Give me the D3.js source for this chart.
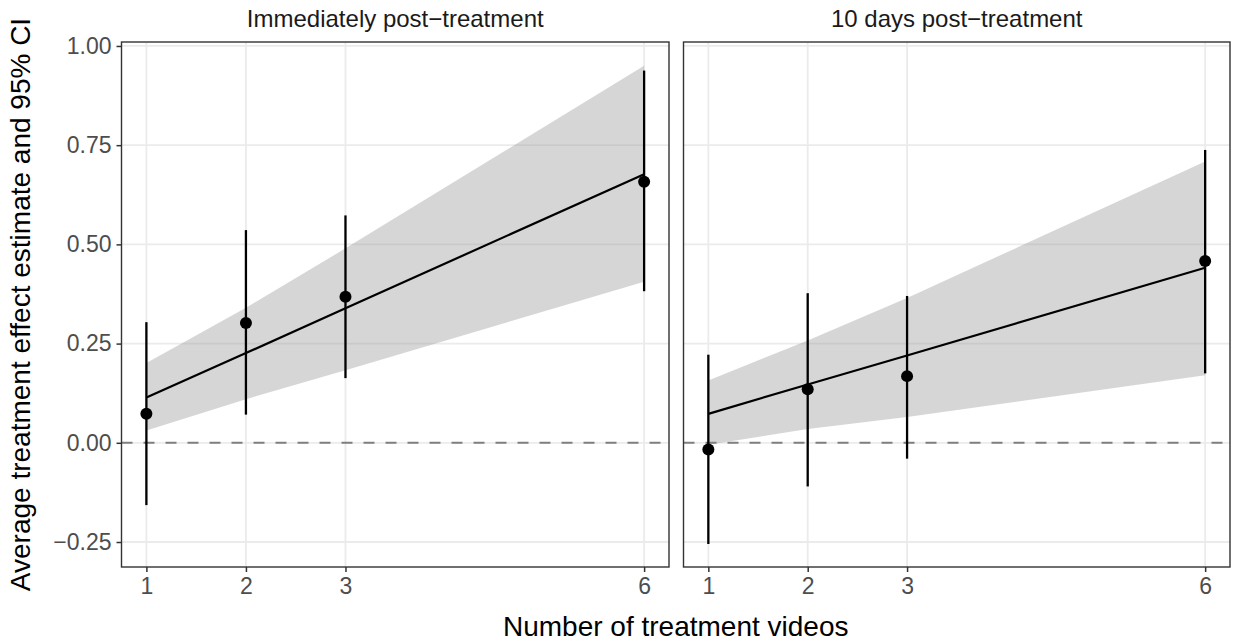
<!DOCTYPE html>
<html>
<head>
<meta charset="utf-8">
<script src="https://cdn.jsdelivr.net/npm/d3@7"></script>
<style>
  body { margin: 0; background: #fff; }
  svg text { font-family: "Liberation Sans", Arial, sans-serif; }
</style>
</head>
<body>
<div id="chart"></div>
<script>
// ---- data ----
var videos = [1, 2, 3, 6];
var panelTitles = ["Immediately post\u2212treatment", "10 days post\u2212treatment"];
var yTicks = [-0.25, 0, 0.25, 0.5, 0.75, 1];

// immediately post-treatment
var estNow = [0.073, 0.302, 0.368, 0.658];
var lowNow = [-0.157, 0.071, 0.163, 0.382];
var highNow = [0.304, 0.536, 0.573, 0.938];
var fitNow = [0.114, 0.226, 0.339, 0.677];
var bandLowNow = [0.031, 0.110, 0.183, 0.406];
var bandHighNow = [0.201, 0.340, 0.490, 0.950];

// 10 days post-treatment
var estLater = [-0.017, 0.135, 0.168, 0.458];
var lowLater = [-0.255, -0.110, -0.040, 0.175];
var highLater = [0.222, 0.377, 0.370, 0.738];
var fitLater = [0.073, 0.147, 0.220, 0.441];
var bandLowLater = [-0.005, 0.035, 0.065, 0.170];
var bandHighLater = [0.157, 0.258, 0.365, 0.709];

var width = 1235, height = 644;
var plotTop = 42, plotBottom = 567;
var panelX = [[121.5, 669], [683.5, 1230]];

var panels = [
  { title: panelTitles[0], est: estNow, lo: lowNow, hi: highNow, fit: fitNow, bLo: bandLowNow, bHi: bandHighNow },
  { title: panelTitles[1], est: estLater, lo: lowLater, hi: highLater, fit: fitLater, bLo: bandLowLater, bHi: bandHighLater }
];

var svg = d3.select("#chart").append("svg")
  .attr("width", width)
  .attr("height", height);

var y = d3.scaleLinear().domain([-0.313, 1.010]).range([plotBottom, plotTop]);

panels.forEach(function(p, i) {
  var x = d3.scaleLinear().domain([0.75, 6.25]).range(panelX[i]);
  var g = svg.append("g");

  // grid
  g.selectAll(".hgrid").data(yTicks).enter().append("line")
    .attr("x1", panelX[i][0]).attr("x2", panelX[i][1])
    .attr("y1", function(d) { return y(d); }).attr("y2", function(d) { return y(d); })
    .attr("stroke", "#EBEBEB").attr("stroke-width", 1.8);
  g.selectAll(".vgrid").data(videos).enter().append("line")
    .attr("y1", plotTop).attr("y2", plotBottom)
    .attr("x1", function(d) { return x(d); }).attr("x2", function(d) { return x(d); })
    .attr("stroke", "#EBEBEB").attr("stroke-width", 1.8);

  // smooth ribbon
  var area = d3.area()
    .x(function(d) { return x(d); })
    .y0(function(d, j) { return y(p.bLo[j]); })
    .y1(function(d, j) { return y(p.bHi[j]); });
  g.append("path").datum(videos)
    .attr("d", area)
    .attr("fill", "#999999").attr("fill-opacity", 0.4);

  // zero line
  g.append("line")
    .attr("x1", panelX[i][0]).attr("x2", panelX[i][1])
    .attr("y1", y(0)).attr("y2", y(0))
    .attr("stroke", "#7F7F7F").attr("stroke-width", 2)
    .attr("stroke-dasharray", "11,11");

  // error bars + points
  g.selectAll(".bar").data(videos).enter().append("line")
    .attr("x1", function(d) { return x(d); }).attr("x2", function(d) { return x(d); })
    .attr("y1", function(d, j) { return y(p.lo[j]); })
    .attr("y2", function(d, j) { return y(p.hi[j]); })
    .attr("stroke", "#000").attr("stroke-width", 2.3);
  g.selectAll(".dot").data(videos).enter().append("circle")
    .attr("cx", function(d) { return x(d); })
    .attr("cy", function(d, j) { return y(p.est[j]); })
    .attr("r", 6).attr("fill", "#000");

  // fit line
  var line = d3.line()
    .x(function(d) { return x(d); })
    .y(function(d, j) { return y(p.fit[j]); });
  g.append("path").datum(videos)
    .attr("d", line)
    .attr("fill", "none").attr("stroke", "#000").attr("stroke-width", 2.2);

  // border
  g.append("rect")
    .attr("x", panelX[i][0]).attr("y", plotTop)
    .attr("width", panelX[i][1] - panelX[i][0]).attr("height", plotBottom - plotTop)
    .attr("fill", "none").attr("stroke", "#333333").attr("stroke-width", 1.4);

  // x axis
  var xAxis = d3.axisBottom(x).tickValues(videos).tickSize(5).tickPadding(6).tickFormat(d3.format("d"));
  var ax = g.append("g").attr("transform", "translate(0," + plotBottom + ")").call(xAxis);
  ax.select(".domain").remove();
  ax.selectAll(".tick line").attr("stroke", "#333333").attr("stroke-width", 1.5);
  ax.selectAll(".tick text").attr("fill", "#4D4D4D").style("font-size", "23px");

  // strip title
  g.append("text")
    .attr("x", (panelX[i][0] + panelX[i][1]) / 2).attr("y", 27)
    .attr("text-anchor", "middle")
    .attr("fill", "#1A1A1A").style("font-size", "24px")
    .text(p.title);
});

// y axis (left panel only)
var yAxis = d3.axisLeft(y).tickValues(yTicks).tickSize(5).tickPadding(5)
  .tickFormat(function(d) { return d3.format(".2f")(d).replace("-", "\u2212"); });
var ay = svg.append("g").attr("transform", "translate(" + panelX[0][0] + ",0)").call(yAxis);
ay.select(".domain").remove();
ay.selectAll(".tick line").attr("stroke", "#333333").attr("stroke-width", 1.5);
ay.selectAll(".tick text").attr("fill", "#4D4D4D").style("font-size", "23px");

// axis titles
svg.append("text")
  .attr("x", (panelX[0][0] + panelX[1][1]) / 2).attr("y", 636)
  .attr("text-anchor", "middle").attr("fill", "#000")
  .style("font-size", "28px")
  .text("Number of treatment videos");
svg.append("text")
  .attr("transform", "translate(30," + ((plotTop + plotBottom) / 2) + ") rotate(-90)")
  .attr("text-anchor", "middle").attr("fill", "#000")
  .style("font-size", "28px")
  .text("Average treatment effect estimate and 95% CI");
</script>
</body>
</html>
